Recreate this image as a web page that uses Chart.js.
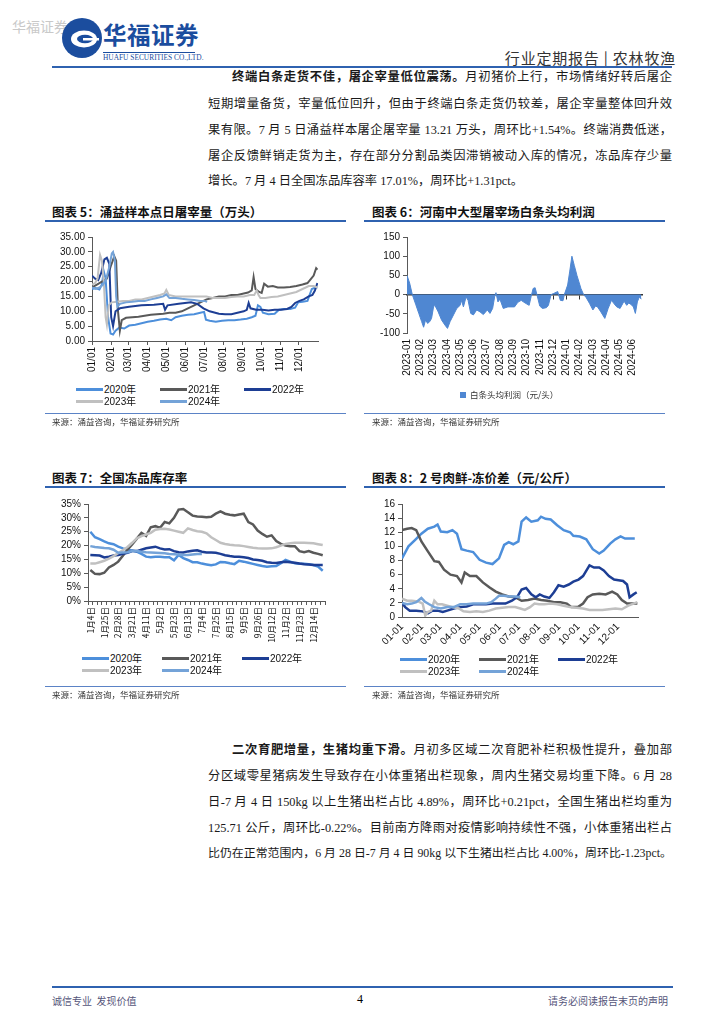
<!DOCTYPE html>
<html lang="zh-CN">
<head>
<meta charset="UTF-8">
<title>农林牧渔 行业定期报告</title>
<script src="https://cdn.jsdelivr.net/npm/chart.js@4"></script>
<style>
  body { margin:0; width:724px; height:1024px; position:relative; overflow:hidden; background:#fff;
         font-family:"Liberation Serif","Noto Sans CJK SC",serif; color:#1a1a1a; }
  .abs { position:absolute; white-space:nowrap; }
  .ln { position:absolute; left:208px; width:464px; font-size:12.3px; line-height:16px;
        text-align:justify; text-align-last:justify; white-space:nowrap; }
  .ln.first { left:232px; width:440px; }
  .ln.last { text-align-last:left; }
  .ln.tight { font-size:11.9px; }
  .title { position:absolute; font-family:"Noto Sans CJK SC",sans-serif; font-weight:bold; font-size:12.5px; line-height:16px; color:#111; }
  .rule { position:absolute; height:2px; background:#2f62b0; }
  .thin { position:absolute; height:1px; background:#5b83c6; }
  .src { position:absolute; font-family:"Noto Sans CJK SC",sans-serif; font-size:8.5px; color:#333; }
  .lg { position:absolute; font-family:"Liberation Sans",Arial,sans-serif; font-size:10px; line-height:12px; color:#111; }
  .lg i { display:inline-block; width:27px; height:3px; vertical-align:middle; margin-right:1px; position:relative; top:-1px; }
  canvas { position:absolute; }
</style>
</head>
<body>

<!-- header -->
<div class="abs" style="left:12px;top:16px;font-family:'Noto Sans CJK SC';font-size:14px;color:#c9c9c9;">华福证券</div>
<svg class="abs" style="left:61px;top:17px" width="42" height="42" viewBox="0 0 42 42">
  <circle cx="21" cy="21" r="20" fill="#1b4d9e"/>
  <ellipse cx="23" cy="22" rx="13" ry="8.5" fill="#fff"/>
  <ellipse cx="24" cy="22" rx="8" ry="4.2" fill="#1b4d9e"/>
  <rect x="22" y="21" width="16" height="2.5" fill="#fff"/>
</svg>
<div class="abs" style="left:103px;top:18px;font-family:'Noto Sans CJK SC';font-weight:bold;font-size:23.5px;line-height:32px;color:#1b4d9e;letter-spacing:0.5px;">华福证券</div>
<div class="abs" style="left:103px;top:52px;width:92px;height:1px;background:#1b4d9e;"></div>
<div class="abs" style="left:103px;top:53px;font-family:'Liberation Serif';font-size:7.4px;line-height:9px;color:#1b4d9e;">HUAFU SECURITIES CO.,LTD.</div>
<div class="abs" style="right:48px;top:49px;font-family:'Noto Sans CJK SC';font-size:15px;line-height:18px;color:#333;letter-spacing:0.8px;">行业定期报告 | 农林牧渔</div>
<div class="abs" style="left:52px;top:66px;width:620px;height:2px;background:#2f62b0;"></div>

<!-- paragraph 1 -->
<div class="ln first" style="top:69px"><b>终端白条走货不佳，屠企宰量低位震荡。</b>月初猪价上行，市场情绪好转后屠企</div>
<div class="ln" style="top:96px">短期增量备货，宰量低位回升，但由于终端白条走货仍较差，屠企宰量整体回升效</div>
<div class="ln" style="top:122px">果有限。7 月 5 日涌益样本屠企屠宰量 13.21 万头，周环比+1.54%。终端消费低迷，</div>
<div class="ln" style="top:148px">屠企反馈鲜销走货为主，存在部分分割品类因滞销被动入库的情况，冻品库存少量</div>
<div class="ln last" style="top:173px">增长。7 月 4 日全国冻品库容率 17.01%，周环比+1.31pct。</div>

<!-- titles row 1 -->
<div class="title" style="left:52px;top:204px">图表 5：涌益样本点日屠宰量（万头）</div>
<div class="rule" style="left:45px;top:220px;width:301px"></div>
<div class="title" style="left:372px;top:204px">图表 6：河南中大型屠宰场白条头均利润</div>
<div class="rule" style="left:364px;top:220px;width:301px"></div>

<canvas id="c5" width="275" height="150" style="left:50px;top:228px"></canvas>
<canvas id="c6" width="290" height="160" style="left:365px;top:228px"></canvas>

<div class="lg" style="left:76px;top:384px"><i style="background:#4d8fdb"></i>2020年</div>
<div class="lg" style="left:160px;top:384px"><i style="background:#595959"></i>2021年</div>
<div class="lg" style="left:244px;top:384px"><i style="background:#1d3e94"></i>2022年</div>
<div class="lg" style="left:76px;top:396px"><i style="background:#c0c0c0"></i>2023年</div>
<div class="lg" style="left:160px;top:396px"><i style="background:#74a3d8"></i>2024年</div>
<div class="lg" style="left:460px;top:388px;font-family:'Noto Sans CJK SC';font-size:8.5px;color:#333"><span style="display:inline-block;width:6px;height:6px;background:#4f87d2;margin-right:4px;"></span>白条头均利润（元/头）</div>

<div class="thin" style="left:45px;top:413px;width:301px"></div>
<div class="thin" style="left:364px;top:413px;width:301px"></div>
<div class="src" style="left:52px;top:415px">来源：涌益咨询，华福证券研究所</div>
<div class="src" style="left:372px;top:415px">来源：涌益咨询，华福证券研究所</div>

<!-- titles row 2 -->
<div class="title" style="left:52px;top:470px">图表 7：全国冻品库存率</div>
<div class="rule" style="left:45px;top:486px;width:301px"></div>
<div class="title" style="left:372px;top:470px">图表 8：2 号肉鲜-冻价差（元/公斤）</div>
<div class="rule" style="left:364px;top:486px;width:301px"></div>

<canvas id="c7" width="290" height="153" style="left:45px;top:495px"></canvas>
<canvas id="c8" width="290" height="160" style="left:360px;top:495px"></canvas>

<div class="lg" style="left:82px;top:653px"><i style="background:#4d8fdb"></i>2020年</div>
<div class="lg" style="left:162px;top:653px"><i style="background:#595959"></i>2021年</div>
<div class="lg" style="left:242px;top:653px"><i style="background:#1d3e94"></i>2022年</div>
<div class="lg" style="left:82px;top:665px"><i style="background:#c0c0c0"></i>2023年</div>
<div class="lg" style="left:162px;top:665px"><i style="background:#74a3d8"></i>2024年</div>

<div class="lg" style="left:400px;top:654px"><i style="background:#4d8fdb"></i>2020年</div>
<div class="lg" style="left:479px;top:654px"><i style="background:#595959"></i>2021年</div>
<div class="lg" style="left:558px;top:654px"><i style="background:#1d3e94"></i>2022年</div>
<div class="lg" style="left:400px;top:666px"><i style="background:#c0c0c0"></i>2023年</div>
<div class="lg" style="left:479px;top:666px"><i style="background:#74a3d8"></i>2024年</div>

<div class="thin" style="left:45px;top:686px;width:301px"></div>
<div class="thin" style="left:364px;top:686px;width:301px"></div>
<div class="src" style="left:52px;top:688px">来源：涌益咨询，华福证券研究所</div>
<div class="src" style="left:372px;top:688px">来源：涌益咨询，华福证券研究所</div>

<!-- paragraph 2 -->
<div class="ln first" style="top:742px"><b>二次育肥增量，生猪均重下滑。</b>月初多区域二次育肥补栏积极性提升，叠加部</div>
<div class="ln" style="top:768px">分区域零星猪病发生导致存在小体重猪出栏现象，周内生猪交易均重下降。6 月 28</div>
<div class="ln" style="top:794px">日-7 月 4 日 150kg 以上生猪出栏占比 4.89%，周环比+0.21pct，全国生猪出栏均重为</div>
<div class="ln" style="top:820px">125.71 公斤，周环比-0.22%。目前南方降雨对疫情影响持续性不强，小体重猪出栏占</div>
<div class="ln tight" style="top:845px">比仍在正常范围内，6 月 28 日-7 月 4 日 90kg 以下生猪出栏占比 4.00%，周环比-1.23pct。</div>

<!-- footer -->
<div class="abs" style="left:52px;top:986px;width:621px;height:2px;background:#2f62b0;"></div>
<div class="abs" style="left:52px;top:993px;font-family:'Noto Sans CJK SC';font-size:10px;color:#55557a;">诚信专业&nbsp;&nbsp;发现价值</div>
<div class="abs" style="left:357px;top:992px;font-family:'Liberation Serif';font-size:12px;color:#000;">4</div>
<div class="abs" style="right:56px;top:993px;font-family:'Noto Sans CJK SC';font-size:10px;color:#55557a;">请务必阅读报告末页的声明</div>

<script>
// ---- colours per year
const c2020 = '#4d8fdb', c2021 = '#595959', c2022 = '#1d3e94', c2023 = '#c0c0c0', c2024 = '#74a3d8';
const yearNames = ['2020年', '2021年', '2022年', '2023年', '2024年'];

// ---- month ticks (day of year)
const monthDays = [0, 31, 59, 90, 120, 151, 181, 212, 243, 273, 304, 334];
const labels5 = ['01/01','02/01','03/01','04/01','05/01','06/01','07/01','08/01','09/01','10/01','11/01','12/01'];
const labels8 = ['01-01','02-01','03-01','04-01','05-01','06-01','07-01','08-01','09-01','10-01','11-01','12-01'];

// ---- chart 5: daily slaughter (万头), day of year -> value
const d5_2020 = [0,6,12,16,19,22,26,30,34,38,44,52,60,70,80,90,100,110,120,128,135,145,155,165,175,181,184,190,200,210,220,230,240,250,258,264,268,272,276,285,295,302,310,320,328,333,340,348,355,361,364];
const v5_2020 = [17.5,17.8,17.3,19,23.5,21,8,2.5,2.2,3.5,4.5,4.2,5.2,5.5,6,6.5,6.8,7.2,7.5,7,8,8.5,8.8,9,9.5,9.8,7.2,6.8,6.5,6.8,7,7,7.2,7.5,8,8.5,12,11.5,9.5,9,9.2,10.5,10.8,10.8,11.2,13,13.2,13.5,17.5,18,18];
const d5_2021 = [0,8,16,24,30,36,39,42,45,48,55,65,75,85,95,105,115,125,135,145,155,165,175,185,195,205,215,225,235,245,252,258,261,264,270,274,278,284,292,300,310,320,330,340,348,354,358,362,364];
const v5_2021 = [18,19,20,21,25,28.5,27,10,3.5,7,7.8,8,8.2,8.5,8.8,9,9.2,9.5,9.5,10,11,12,13,14,14.5,15,15,15.5,15.5,16,16.3,17,21.5,17.5,16.5,16.2,19.3,18.3,18.5,18,18,18.2,18.5,19,19.5,21,22,24.5,24];
const d5_2022 = [0,5,10,15,20,24,28,31,34,38,45,60,80,100,115,118,122,140,160,170,180,190,205,215,225,235,245,250,253,256,265,275,285,295,305,315,322,328,335,342,350,356,360,364];
const v5_2022 = [22,21,20.5,23,27.5,28,26,8,5,10,11,11.5,12,12.2,12.5,10.5,12,12.5,13,12.5,11,10,9.2,9,9,9.5,10,10.5,12.8,11,10.5,10.5,10.3,10.5,10.5,10.8,11.5,12.8,13.5,14,15,15.5,17,19.5];
const d5_2023 = [0,5,9,13,16,19,22,24,27,32,40,50,60,70,80,90,100,110,117,120,124,135,145,155,165,175,185,195,205,215,225,235,245,255,262,266,269,272,280,290,300,310,320,330,340,350,358,364];
const v5_2023 = [19,19.5,21,29,27,20,8,5.5,12,13,13.2,13.5,13.5,14,14,14.5,15,15.5,16,17.2,15.5,15,15,15,15,15,15,14.5,14.5,14.5,14.8,15,15,15.5,15.5,17,15.5,14.5,14.5,14.8,15,15.5,16,16.5,17.5,18.5,18.5,18];
const d5_2024 = [0,6,12,18,23,28,32,34,37,39,41,45,55,65,75,85,95,105,115,120,125,135,145,155,165,175,181,186];
const v5_2024 = [18,17.5,18,19,21,25,29.5,30,27,15,11.5,12.5,13,13.2,13.5,13.5,14,14.5,15,15.7,14.5,14.5,14.2,14,13.8,13.5,13.5,13.2];

// ---- chart 6: profit per head (元/头), month index from 2023-01
const labels6 = ['2023-01','2023-02','2023-03','2023-04','2023-05','2023-06','2023-07','2023-08','2023-09','2023-10','2023-11','2023-12','2024-01','2024-02','2024-03','2024-04','2024-05','2024-06'];
const m6 = [0,0.2,0.4,0.65,0.9,1.1,1.25,1.4,1.55,1.7,1.85,2.0,2.1,2.35,2.6,2.85,3.05,3.25,3.5,3.75,4.0,4.1,4.25,4.45,4.6,4.8,5.0,5.25,5.5,5.75,6.05,6.25,6.45,6.6,6.7,6.85,7.0,7.25,7.6,8.1,8.35,8.6,8.9,9.2,9.35,9.5,9.65,9.8,10.0,10.2,10.5,10.65,10.85,11.05,11.35,11.55,11.75,11.85,12.1,12.25,12.42,12.6,12.8,13.1,13.3,13.5,13.75,14.0,14.2,14.35,14.6,14.9,15.15,15.4,15.6,15.8,16.05,16.35,16.55,16.7,16.85,17.05,17.2,17.35,17.5,17.65];
const profit6 = [50,30,0,-25,-50,-70,-85,-66,-75,-71,-62,-32,-28,-45,-66,-79,-88,-70,-53,-36,-28,-15,-32,-6,-15,-49,-53,-40,-45,-52,-40,-49,-36,-6,5,-19,-12,-36,-32,-32,-20,-15,-22,-28,-5,16,18,-2,-30,-36,-34,-28,0,3,8,-15,-16,0,25,59,100,76,50,16,0,-8,-23,-40,-30,-32,-45,-62,-36,-15,-24,-32,-36,-17,-28,-22,-25,-32,-49,-19,-6,-12];

// ---- chart 7: frozen stock rate (%), weekly
const weekLabels = ['1月4日','1月11日','1月18日','1月25日','2月1日','2月21日','2月28日','3月7日','3月14日','3月21日','3月28日','4月4日','4月11日','4月18日','4月25日','5月2日','5月9日','5月16日','5月23日','5月30日','6月6日','6月13日','6月20日','6月27日','7月4日','7月11日','7月18日','7月25日','8月1日','8月8日','8月15日','8月22日','8月29日','9月5日','9月12日','9月19日','9月26日','9月30日','10月8日','10月12日','10月19日','10月26日','11月2日','11月9日','11月16日','11月23日','11月30日','12月7日','12月14日','12月21日','12月28日'];
const s7_2020 = [25,23,22.3,21.5,20.8,20.5,19.6,19,18.5,18.2,17.8,17,16,15.8,16,16,15.8,15.8,14.7,16.6,15.5,14.8,14,14,13.5,13.2,12.9,13.2,14.1,14,13.6,13.3,14.5,14.2,13.8,13.4,13,12.6,12.4,12.5,12.6,13.6,14.8,14.2,13.6,13.4,13.4,13.3,13,12.4,10.9];
const s7_2021 = [11.2,9.8,9.7,10.2,12.1,13,14.2,16.3,18.5,20.4,22.5,24.6,23.5,26.6,27,26.4,28.5,28,30,33,33.2,32,30.8,30.5,30.4,30.2,30.4,31.5,32.3,31.5,31.1,30.9,31.2,31.5,28.5,27.6,25.4,24.2,23.2,23.7,21.6,20.6,20,19.8,19.8,18,17.6,18,17.4,17,16.5];
const s7_2022 = [16.6,16.5,16.4,15.7,16,16.4,16.6,17,17.4,18,18,18.5,19,19.3,19.6,19,18.6,18.7,18,17.6,17.5,17.9,18.1,18.3,17.8,17.5,17.5,17.4,17,16.5,16.2,16,16,15.8,15.5,15,14.8,14.5,14,13.8,13.7,14,14.2,14,13.8,13.5,13.3,13.2,13,13,13];
const s7_2023 = [13.5,13.5,14,14.5,15.3,16.2,17.3,18.3,19.5,21,22.6,23.4,24,24.6,25.7,26,26.1,25.8,25.4,25,24.6,26.2,25.6,25.2,25,24.4,23,22,21,20.6,20.3,20.1,20,19.8,19.5,19.2,19,18.9,18.9,19,19.4,20,20.6,20.8,21,21,21,20.9,20.8,20.5,20.2];
const s7_2024 = [19.8,19.5,19.3,19.1,19,18.5,17.4,17.5,17.6,18,18,17.8,17.6,17.5,17.4,17.3,17.2,17,16.9,16.8,16.6,16.6,16.8,17,17.0];

// ---- chart 8: fresh-frozen spread (元/公斤), day of year -> value
const d8_2020 = [0,10,20,30,40,50,55,60,70,78,85,92,100,110,120,130,140,150,158,165,172,180,185,192,200,210,215,222,230,240,250,260,265,275,285,295,305,312,322,330,338,345,355,360];
const v8_2020 = [8.3,10,10.9,11.8,12.5,12.8,13.1,12.1,12,12.3,11.8,9.6,9.4,9.2,8.1,7.7,7.5,8.3,10.2,10.6,10.3,10.7,13.5,14.1,13.5,13.7,14.2,13.9,13.8,13,12.3,12,11.5,11.4,11,9.6,9,9.4,10.4,11,11.4,11.1,11.1,11.1];
const d8_2021 = [0,8,15,22,30,40,50,57,65,75,85,92,97,105,115,125,135,145,155,165,175,185,195,205,215,225,235,245,255,262,272,280,287,295,305,315,325,333,340,348,358,364];
const v8_2021 = [12.3,12.5,12.6,12.3,10.7,9.3,7.9,7.8,6.7,6,5.8,4.9,6.3,5.8,5.8,4.9,4.2,3.6,3.2,2.9,2.8,2.3,2.4,2.6,2.4,2.3,2.1,2.1,1.9,1.4,1.4,1.9,2.8,3.2,3.3,3.2,3.6,3.2,2.4,1.9,1.9,1.9];
const d8_2022 = [0,5,12,22,32,40,47,55,63,70,80,90,100,110,120,130,140,150,160,170,178,185,192,200,207,213,220,228,235,242,250,258,265,273,280,290,297,305,312,320,328,335,342,348,352,358,363];
const v8_2022 = [2,1.4,0.9,0.9,0.8,0.5,0.9,0.9,0.7,0.9,1.2,1.4,1.5,1.8,1.8,1.8,1.9,1.9,1.9,2.3,2.8,3.9,4.1,3.2,2.8,3.2,2.9,2.7,3.5,4.5,4.3,4.6,5,5.3,5.8,7.3,7,7,6.6,5.8,5.3,5.2,5.1,4.6,2.8,3.2,3.5];
const d8_2023 = [0,8,15,25,32,36,40,45,50,55,62,70,78,88,95,105,115,125,135,145,155,165,175,183,190,198,205,212,220,230,240,250,260,270,280,290,300,310,320,330,340,350,358,364];
const v8_2023 = [2.6,2.3,2.3,2.2,1.9,0.2,0.7,0.9,2.3,1.8,1.8,1.6,1.4,1.2,0.8,0.7,0.8,0.7,0.9,1.2,1.3,1.4,1.4,1.2,1,1.4,1.9,1.8,1.8,1.9,1.8,1.6,1.4,1.3,1.2,1,1,1,1.1,1.2,1.1,1.6,1.9,2.1];
const d8_2024 = [0,8,15,22,30,35,42,50,60,70,80,90,100,110,120,130,138,145,150,158,165,175,183];
const v8_2024 = [2,1.8,1.9,2.1,2.7,2.2,1.8,1.4,1.2,1.4,1.4,1.8,1.8,1.9,1.9,1.9,2.1,2.6,3,3,2.9,2.9,2.8];

// ---- shared styling
Chart.defaults.animation = false;
Chart.defaults.responsive = false;
Chart.defaults.plugins.legend.display = false;
Chart.defaults.plugins.tooltip.enabled = false;
Chart.defaults.elements.point.radius = 0;
Chart.defaults.elements.line.tension = 0;

const AXIS = '#595959';
const NUM_FONT = { family: 'Liberation Sans', size: 10 };
const xy = (xs, ys) => xs.map((x, i) => ({ x: x, y: ys[i] }));
const colors = [c2020, c2021, c2022, c2023, c2024];

function yScale(min, max, step, width, fmt) {
    return {
        min: min, max: max,
        afterBuildTicks: s => {
            const t = [];
            for (let v = min; v <= max + 1e-9; v += step) t.push({ value: v });
            s.ticks = t;
        },
        ticks: { autoSkip: false, color: '#111', font: NUM_FONT, padding: 3, callback: fmt },
        grid: { drawOnChartArea: false, tickLength: 4, color: AXIS },
        border: { color: AXIS },
        afterFit: s => { s.width = width; }
    };
}

function yearSets(pairs, width) {
    return pairs.map((p, i) => ({
        label: yearNames[i],
        data: p,
        borderColor: colors[i],
        borderWidth: width,
        order: 4 - i,
        fill: false
    }));
}

// chart 5
new Chart(document.getElementById('c5'), {
    type: 'line',
    data: { datasets: yearSets([xy(d5_2020, v5_2020), xy(d5_2021, v5_2021), xy(d5_2022, v5_2022), xy(d5_2023, v5_2023), xy(d5_2024, v5_2024)], 2) },
    options: {
        layout: { padding: { top: 7, right: 7, left: 0, bottom: 0 } },
        scales: {
            x: {
                type: 'linear', min: 0, max: 365,
                afterBuildTicks: s => { s.ticks = monthDays.map(v => ({ value: v })); },
                ticks: { autoSkip: false, minRotation: 90, maxRotation: 90, color: '#111', font: NUM_FONT, padding: 2,
                         callback: (v, i) => labels5[i] },
                grid: { drawOnChartArea: false, tickLength: 4, color: AXIS },
                border: { color: AXIS },
                afterFit: s => { s.height = 37; }
            },
            y: yScale(0, 35, 5, 42, v => v.toFixed(2))
        }
    }
});

// chart 6
new Chart(document.getElementById('c6'), {
    type: 'line',
    data: {
        datasets: [{
            label: '白条头均利润（元/头）',
            data: xy(m6, profit6),
            borderColor: '#4f87d2',
            backgroundColor: '#4f87d2',
            borderWidth: 1,
            fill: 'origin'
        }]
    },
    options: {
        layout: { padding: { top: 9, right: 13, left: 0, bottom: 0 } },
        scales: {
            x: {
                type: 'linear', min: 0, max: 17.7,
                afterBuildTicks: s => { s.ticks = labels6.map((_, i) => ({ value: i })); },
                ticks: { autoSkip: false, minRotation: 90, maxRotation: 90, color: '#111', font: NUM_FONT, padding: 6,
                         callback: (v, i) => labels6[i] },
                grid: { display: false, drawTicks: false },
                border: { display: false },
                afterFit: s => { s.height = 55; }
            },
            xz: {
                type: 'linear', axis: 'x', position: { y: 0 }, min: 0, max: 17.7, z: 1,
                afterBuildTicks: s => { s.ticks = labels6.map((_, i) => ({ value: i })); },
                ticks: { display: false },
                grid: { drawOnChartArea: false, tickLength: 4, color: '#333' },
                border: { color: '#333', width: 1.5 }
            },
            y: yScale(-100, 150, 50, 42, v => v)
        }
    }
});

// chart 7
new Chart(document.getElementById('c7'), {
    type: 'line',
    data: {
        labels: weekLabels,
        datasets: yearSets([s7_2020, s7_2021, s7_2022, s7_2023, s7_2024], 2.5)
    },
    options: {
        layout: { padding: { top: 7, right: 8, left: 0, bottom: 0 } },
        scales: {
            x: {
                type: 'category', offset: true,
                ticks: { autoSkip: false, minRotation: 90, maxRotation: 90, color: '#111', padding: 2,
                         font: { family: 'Noto Sans CJK SC', size: 8.5 },
                         callback: (v, i) => (i % 3 === 0 ? weekLabels[i] : '') },
                grid: { drawOnChartArea: false, offset: true, tickLength: 4, color: AXIS },
                border: { color: AXIS },
                afterFit: s => { s.height = 47; }
            },
            y: yScale(0, 35, 5, 43, v => v + '%')
        }
    }
});

// chart 8
new Chart(document.getElementById('c8'), {
    type: 'line',
    data: { datasets: yearSets([xy(d8_2020, v8_2020), xy(d8_2021, v8_2021), xy(d8_2022, v8_2022), xy(d8_2023, v8_2023), xy(d8_2024, v8_2024)], 2.5) },
    options: {
        layout: { padding: { top: 7, right: 12, left: 0, bottom: 0 } },
        scales: {
            x: {
                type: 'linear', min: 0, max: 365,
                afterBuildTicks: s => { s.ticks = monthDays.map(v => ({ value: v })); },
                ticks: { autoSkip: false, minRotation: 45, maxRotation: 45, color: '#111', font: NUM_FONT, padding: 4,
                         callback: (v, i) => labels8[i] },
                grid: { display: false, drawTicks: false },
                border: { color: AXIS },
                afterFit: s => { s.height = 38; }
            },
            y: yScale(0, 16, 2, 42, v => v)
        }
    }
});
</script>
</body>
</html>
